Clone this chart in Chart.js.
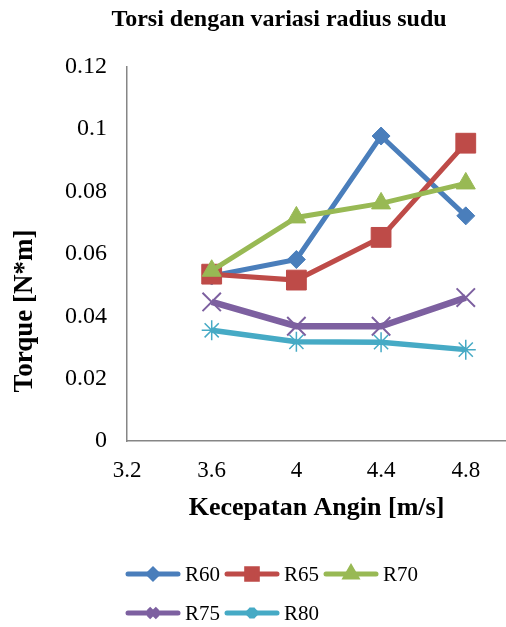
<!DOCTYPE html>
<html>
<head>
<meta charset="utf-8">
<script src="https://cdn.jsdelivr.net/npm/chart.js@4/dist/chart.umd.min.js"></script>
<style>
  html, body { margin: 0; padding: 0; background: #fff; }
  canvas { display: block; }
</style>
</head>
<body>
<canvas id="torque-chart" width="506" height="627"></canvas>
<script>
const chartTitle = 'Torsi dengan variasi radius sudu';
const xTitle = 'Kecepatan Angin [m/s]';
const yTitle = 'Torque [N*m]';

// wind speed (m/s) for every series
const windSpeed = [3.6, 4, 4.4, 4.8];
const xTicks = [3.2, 3.6, 4, 4.4, 4.8];
const yTicks = [0, 0.02, 0.04, 0.06, 0.08, 0.1, 0.12];

const seriesNames = ['R60', 'R65', 'R70', 'R75', 'R80'];
const r60 = [0.0529, 0.0582, 0.0978, 0.0722];
const r65 = [0.0535, 0.0516, 0.0653, 0.0955];
const r70 = [0.0546, 0.0717, 0.0762, 0.0826];
const r75 = [0.0446, 0.0368, 0.0368, 0.0460];
const r80 = [0.0355, 0.0318, 0.0317, 0.0293];

const colors = ['#4a7ebb', '#be4b48', '#98b954', '#7d60a0', '#46aac5'];
const serif = "'Liberation Serif', 'Times New Roman', serif";

const styles = [
  { pointStyle: 'rectRot', radius: 9, legendRadius: 4.5, width: 5, pointBorder: 1 },
  { pointStyle: 'rect', radius: 14, legendRadius: 7.5, width: 5, pointBorder: 1 },
  { pointStyle: 'triangle', radius: 11, legendRadius: 6, width: 5, pointBorder: 1 },
  { pointStyle: 'crossRot', radius: 13, legendRadius: 6.5, width: 6.5, pointBorder: 2 },
  { pointStyle: 'star', radius: 10, legendRadius: 5.5, width: 5.5, pointBorder: 1.5 }
];

const toPoints = (ys) => windSpeed.map((x, i) => ({ x: x, y: ys[i] }));

const datasets = [r60, r65, r70, r75, r80].map((ys, i) => ({
  label: seriesNames[i],
  data: toPoints(ys),
  borderColor: colors[i],
  backgroundColor: colors[i],
  borderWidth: styles[i].width,
  pointStyle: styles[i].pointStyle,
  pointRadius: styles[i].radius,
  pointBorderWidth: styles[i].pointBorder,
  pointBackgroundColor: colors[i],
  pointBorderColor: colors[i],
  legendRadius: styles[i].legendRadius,
  tension: 0,
  fill: false,
  // later series are drawn on top
  order: seriesNames.length - i
}));

// rotated y axis title, placed like the spreadsheet original
const yTitlePlugin = {
  id: 'yTitle',
  afterDraw(chart) {
    const ctx = chart.ctx;
    ctx.save();
    ctx.translate(25, 311);
    ctx.rotate(-Math.PI / 2);
    ctx.font = 'bold 27px ' + serif;
    ctx.fillStyle = '#000';
    ctx.textAlign = 'center';
    ctx.textBaseline = 'middle';
    ctx.fillText(yTitle, 0, 0);
    ctx.restore();
  }
};

// legend: line with marker, three entries per row, left aligned
const lineLegendPlugin = {
  id: 'lineLegend',
  afterDraw(chart) {
    const ctx = chart.ctx;
    const left = 126, colWidth = 99, rowY = [574, 613], lineLen = 54;
    ctx.save();
    chart.data.datasets.forEach((ds, i) => {
      const x = left + (i % 3) * colWidth;
      const y = rowY[Math.floor(i / 3)];
      ctx.strokeStyle = ds.borderColor;
      ctx.fillStyle = ds.borderColor;
      ctx.lineWidth = 5;
      ctx.lineCap = 'round';
      ctx.beginPath();
      ctx.moveTo(x + 2, y);
      ctx.lineTo(x + lineLen - 2, y);
      ctx.stroke();
      ctx.lineCap = 'butt';
      Chart.helpers.drawPoint(ctx, {
        pointStyle: ds.pointStyle,
        radius: ds.legendRadius,
        rotation: 0,
        borderWidth: ds.pointBorderWidth
      }, x + lineLen / 2, y);
      ctx.fillStyle = '#000';
      ctx.font = '21px ' + serif;
      ctx.textAlign = 'left';
      ctx.textBaseline = 'middle';
      ctx.fillText(ds.label, x + lineLen + 5, y + 1);
    });
    ctx.restore();
  }
};

new Chart(document.getElementById('torque-chart'), {
  type: 'line',
  data: { datasets: datasets },
  options: {
    responsive: false,
    animation: false,
    layout: { autoPadding: false, padding: { left: 52, right: 0, top: 0, bottom: 0 } },
    plugins: {
      legend: { display: false },
      tooltip: { enabled: false },
      title: {
        display: true,
        text: chartTitle,
        color: '#000',
        font: { family: serif, size: 24, weight: 'bold' },
        padding: { top: 5, bottom: 33 }
      }
    },
    scales: {
      x: {
        type: 'linear',
        min: 3.2,
        max: 4.99,
        afterFit: (scale) => { scale.height = 186; },
        afterBuildTicks: (scale) => {
          scale.ticks = xTicks.map(v => ({ value: v }));
        },
        // tick marks stay hidden; their length only spaces the labels
        grid: { display: false, drawTicks: true, tickLength: 16 },
        border: { display: true, color: '#868686', width: 1.5 },
        ticks: {
          color: '#000',
          padding: 0,
          font: { family: serif, size: 23 },
          callback: (v) => String(v)
        },
        title: {
          display: true,
          text: xTitle,
          color: '#000',
          font: { family: serif, size: 26, weight: 'bold' },
          padding: { top: 0, bottom: 103 }
        }
      },
      y: {
        min: 0,
        max: 0.12,
        afterFit: (scale) => { scale.width = 75; },
        afterBuildTicks: (scale) => {
          scale.ticks = yTicks.map(v => ({ value: v }));
        },
        grid: { display: false, drawTicks: false },
        border: { display: true, color: '#868686', width: 1.5 },
        ticks: {
          color: '#000',
          padding: 20,
          font: { family: serif, size: 24 },
          callback: (v) => String(v)
        }
      }
    }
  },
  plugins: [yTitlePlugin, lineLegendPlugin]
});
</script>
</body>
</html>
